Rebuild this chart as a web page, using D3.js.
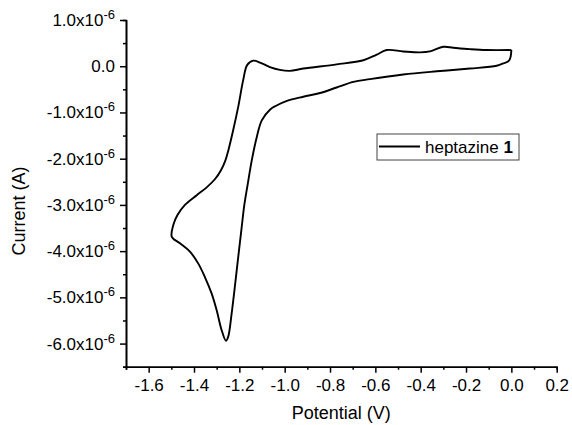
<!DOCTYPE html>
<html>
<head>
<meta charset="utf-8">
<script src="https://cdn.jsdelivr.net/npm/d3@7"></script>
<style>
  body { margin: 0; background: #fff; }
  svg { font-family: "Liberation Sans", Arial, sans-serif; }
</style>
</head>
<body>
<svg></svg>
<script>
// canvas size
let width = 572
let height = 425

// cyclic voltammogram, potential in V, current in microamps (x10^-6 A)
// starts at 0 V, sweeps negative, reverses at -1.5 V and comes back
let potential = [
  0.00, -0.009, -0.036, -0.065, -0.183, -0.329, -0.477, -0.624, -0.697, -0.771,
  -0.844, -0.918, -0.99, -1.04, -1.065, -1.101, -1.123, -1.145, -1.163, -1.178,
  -1.191, -1.208, -1.225, -1.234, -1.249, -1.259, -1.278, -1.300, -1.322, -1.352,
  -1.381, -1.418, -1.462, -1.498,
  -1.491, -1.473, -1.440, -1.388, -1.344, -1.307, -1.281, -1.261, -1.248, -1.227,
  -1.205, -1.183, -1.165, -1.138, -1.109, -1.065, -1.021, -0.977, -0.918, -0.771,
  -0.653, -0.594, -0.550, -0.477, -0.403, -0.359, -0.300, -0.256, -0.183, -0.109, 0.00
]
let current = [
  0.35, 0.13, 0.06, 0.01, -0.05, -0.11, -0.18, -0.28, -0.34, -0.46,
  -0.58, -0.66, -0.75, -0.86, -0.94, -1.17, -1.53, -2.03, -2.55, -3.00,
  -3.54, -4.26, -4.99, -5.35, -5.85, -5.94, -5.71, -5.28, -4.92, -4.56,
  -4.27, -4.01, -3.83, -3.69,
  -3.43, -3.22, -3.00, -2.79, -2.62, -2.44, -2.25, -2.03, -1.81, -1.38,
  -0.88, -0.30, 0.03, 0.12, 0.08, -0.02, -0.08, -0.10, -0.05, 0.04,
  0.13, 0.25, 0.35, 0.32, 0.30, 0.32, 0.42, 0.40, 0.37, 0.35, 0.35
]

// tick values
let xTicks = [-1.6, -1.4, -1.2, -1.0, -0.8, -0.6, -0.4, -0.2, 0.0, 0.2]
let xMinor = [-1.7, -1.5, -1.3, -1.1, -0.9, -0.7, -0.5, -0.3, -0.1, 0.1]
let yTicks = [1, 0, -1, -2, -3, -4, -5, -6]
let yMinor = [0.5, -0.5, -1.5, -2.5, -3.5, -4.5, -5.5, -6.5]

let seriesName = 'heptazine '
let seriesNum = '1'

let svg = d3.select('svg')
svg.attr('width', width).attr('height', height)

// scales
let xScale = d3.scaleLinear().domain([-1.7, 0.2]).range([126, 556.7])
let yScale = d3.scaleLinear().domain([-6.5, 1]).range([366.7, 20])

// minor ticks first
svg.append('g')
  .attr('transform', 'translate(0,' + yScale(-6.5) + ')')
  .call(d3.axisBottom(xScale).tickValues(xMinor).tickSize(3).tickFormat(''))
svg.append('g')
  .attr('transform', 'translate(' + xScale(-1.7) + ',0)')
  .call(d3.axisLeft(yScale).tickValues(yMinor).tickSize(3).tickFormat(''))

// x axis
let xAxis = svg.append('g')
  .attr('transform', 'translate(0,' + yScale(-6.5) + ')')
  .call(d3.axisBottom(xScale).tickValues(xTicks).tickSize(6).tickPadding(6)
    .tickSizeOuter(0).tickFormat(d3.format('.1f')))
xAxis.selectAll('text').attr('font-size', 17).attr('fill', '#000')
  .text(d => d3.format('.1f')(d).replace('−', '-'))

// y axis, labels as 1.0x10^-6
let yAxis = svg.append('g')
  .attr('transform', 'translate(' + xScale(-1.7) + ',0)')
  .call(d3.axisLeft(yScale).tickValues(yTicks).tickSize(6).tickPadding(5).tickSizeOuter(0))
yAxis.selectAll('text').attr('font-size', 17).attr('fill', '#000')
  .each(function(d) {
    let t = d3.select(this)
    t.text(null)
    if (d === 0) {
      t.append('tspan').text('0.0')
      return
    }
    t.append('tspan').text((d < 0 ? '-' : '') + Math.abs(d).toFixed(1) + 'x10')
    t.append('tspan').attr('font-size', 13).attr('dy', '-7').text('-6')
  })

svg.selectAll('.domain').attr('stroke-width', 1.6)
svg.selectAll('.tick line').attr('stroke-width', 1.5)

// curve
let pts = potential.map((v, i) => [v, current[i]])
let line = d3.line()
  .x(d => xScale(d[0]))
  .y(d => yScale(d[1]))
  .curve(d3.curveCatmullRom.alpha(0.5))

svg.append('path')
  .datum(pts)
  .attr('fill', 'none')
  .attr('stroke', '#000')
  .attr('stroke-width', 1.9)
  .attr('stroke-linejoin', 'round')
  .attr('d', line)

// axis titles
svg.append('text')
  .attr('x', (xScale(-1.7) + xScale(0.2)) / 2)
  .attr('y', 419)
  .attr('text-anchor', 'middle')
  .attr('font-size', 18)
  .text('Potential (V)')

svg.append('text')
  .attr('transform', 'translate(25,211) rotate(-90)')
  .attr('text-anchor', 'middle')
  .attr('font-size', 18)
  .text('Current (A)')

// legend
let legend = svg.append('g')
legend.append('rect')
  .attr('x', 377).attr('y', 134).attr('width', 142).attr('height', 26)
  .attr('fill', '#fff').attr('stroke', '#444').attr('stroke-width', 1)
legend.append('line')
  .attr('x1', 379).attr('x2', 420).attr('y1', 146.5).attr('y2', 146.5)
  .attr('stroke', '#000').attr('stroke-width', 1.8)
let lt = legend.append('text').attr('x', 425).attr('y', 153).attr('font-size', 17)
lt.append('tspan').text(seriesName)
lt.append('tspan').attr('font-weight', 'bold').text(seriesNum)
</script>
</body>
</html>
